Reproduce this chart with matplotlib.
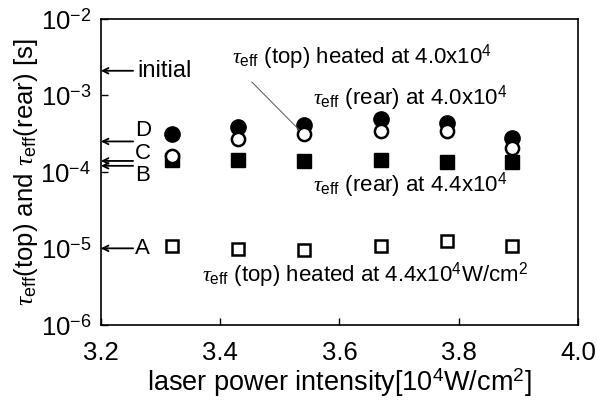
import matplotlib.pyplot as plt
from matplotlib.ticker import FixedLocator, FixedFormatter, NullLocator

plt.rcParams["font.family"] = ["Liberation Sans", "DejaVu Sans"]
plt.rcParams["mathtext.fontset"] = "custom"
plt.rcParams["mathtext.rm"] = "Liberation Sans"
plt.rcParams["mathtext.it"] = "Liberation Serif:italic"

# laser power intensity [10^4 W/cm^2]
power = [3.32, 3.43, 3.54, 3.67, 3.78, 3.89]
# tau_eff values [s]
rear_40 = [3.1e-4, 3.9e-4, 4.1e-4, 4.9e-4, 4.3e-4, 2.75e-4]   # filled circles
top_40 = [1.63e-4, 2.68e-4, 3.1e-4, 3.47e-4, 3.47e-4, 2.08e-4]  # open circles
rear_44 = [1.44e-4, 1.44e-4, 1.39e-4, 1.44e-4, 1.36e-4, 1.36e-4]  # filled squares
top_44 = [1.08e-5, 9.85e-6, 9.55e-6, 1.06e-5, 1.23e-5, 1.08e-5]  # open squares

# reference levels marked on the left axis
ref_names = ["initial", "D", "C", "B", "A"]
ref_values = [2.1e-3, 2.5e-4, 1.39e-4, 1.2e-4, 1.0e-5]
ref_label_y = [2.1e-3, 3.5e-4, 1.75e-4, 0.89e-4, 1.0e-5]

yticks = [1e-6, 1e-5, 1e-4, 1e-3, 1e-2]
ytick_labels = ["10$^{-6}$", "10$^{-5}$", "10$^{-4}$", "10$^{-3}$", "10$^{-2}$"]
xticks = [3.2, 3.4, 3.6, 3.8, 4.0]
xtick_labels = ["3.2", "3.4", "3.6", "3.8", "4.0"]

fig = plt.figure(figsize=(5.97, 4.03), dpi=100)
ax = fig.add_axes([0.169, 0.194, 0.799, 0.759])

ax.plot(power, top_44, "s", ms=9, mfc="white", mec="black", mew=1.8)
ax.plot(power, rear_44, "s", ms=10, color="black")
ax.plot(power, rear_40, "o", ms=11, color="black")
ax.plot(power, top_40, "o", ms=9.5, mfc="white", mec="black", mew=1.8)

ax.set_yscale("log")
ax.set_xlim(3.2, 4.0)
ax.set_ylim(1e-6, 1e-2)
ax.yaxis.set_major_locator(FixedLocator(yticks))
ax.yaxis.set_major_formatter(FixedFormatter(ytick_labels))
ax.yaxis.set_minor_locator(NullLocator())
ax.xaxis.set_major_locator(FixedLocator(xticks))
ax.xaxis.set_major_formatter(FixedFormatter(xtick_labels))
ax.tick_params(direction="in", length=5, width=1, labelsize=18.5, pad=7)
ax.tick_params(axis="x", pad=12)
for s in ax.spines.values():
    s.set_linewidth(1.2)

# arrows and labels on the left axis
for name, v, ly in zip(ref_names, ref_values, ref_label_y):
    ax.annotate("", xy=(3.2, v), xytext=(3.254, v),
                arrowprops=dict(arrowstyle="->", lw=1.3, color="black",
                                shrinkA=0, shrinkB=0))
    ax.text(3.262 if name == "initial" else 3.257, ly, name,
            fontsize=17 if name == "initial" else 16, va="center", ha="left")

fs = 16
ax.text(3.42, 3.2e-3, r"$\tau_{\rm eff}$ (top) heated at 4.0x10$^{4}$",
        fontsize=fs, va="center", ha="left")
ax.annotate("", xy=(power[2], top_40[2]), xytext=(3.453, 1.5e-3),
            arrowprops=dict(arrowstyle="-", lw=0.7, color="#555555",
                            shrinkA=0, shrinkB=4.5))
ax.text(3.556, 9.3e-4, r"$\tau_{\rm eff}$ (rear) at 4.0x10$^{4}$",
        fontsize=fs, va="center", ha="left")
ax.text(3.556, 6.6e-5, r"$\tau_{\rm eff}$ (rear) at 4.4x10$^{4}$",
        fontsize=fs, va="center", ha="left")
ax.text(3.369, 4.5e-6, r"$\tau_{\rm eff}$ (top) heated at 4.4x10$^{4}$W/cm$^{2}$",
        fontsize=fs, va="center", ha="left")

ax.set_xlabel("laser power intensity[10$^{4}$W/cm$^{2}$]", fontsize=19.5, labelpad=1)
ax.set_ylabel(r"$\tau_{\rm eff}$(top) and $\tau_{\rm eff}$(rear) [s]", fontsize=18.5,
              labelpad=0)

fig.savefig("out.png", dpi=100)
